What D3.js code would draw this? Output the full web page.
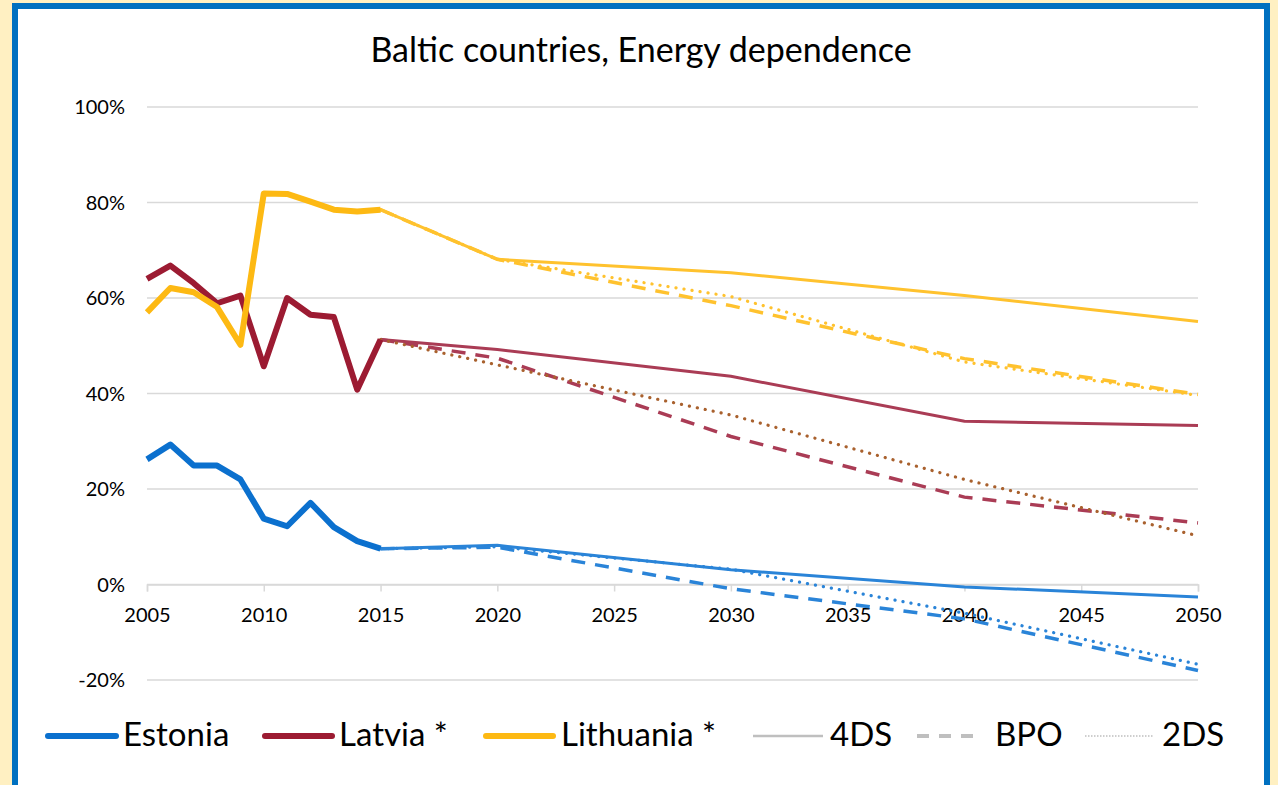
<!DOCTYPE html>
<html>
<head>
<meta charset="utf-8">
<script src="https://cdn.jsdelivr.net/npm/d3@7"></script>
<style>
  html, body { margin: 0; padding: 0; background: #FFF0C2; }
  svg { display: block; }
  text { font-family: Lato, "Liberation Sans", sans-serif; fill: #000; }
</style>
</head>
<body>
<svg id="chart" width="1278" height="785"></svg>
<script>
// historic values (%), 2005-2015
const histYears = [2005, 2006, 2007, 2008, 2009, 2010, 2011, 2012, 2013, 2014, 2015];
const estoniaHist = [26.2, 29.3, 24.9, 24.9, 22.0, 13.8, 12.2, 17.1, 12.0, 9.1, 7.5];
const latviaHist = [64.0, 66.8, 63.1, 58.9, 60.5, 45.7, 60.0, 56.5, 56.0, 40.8, 51.3];
const lithuaniaHist = [57.0, 62.1, 61.2, 58.1, 50.2, 81.9, 81.8, 80.2, 78.5, 78.1, 78.5];

// scenario projections (%)
const projYears = [2015, 2020, 2030, 2040, 2050];
const estonia4DS = [7.5, 8.2, 3.1, -0.5, -2.6];
const estoniaBPO = [7.5, 7.8, -0.9, -7.2, -18.0];
const estonia2DS = [7.5, 7.9, 3.2, -6.0, -16.7];
const latvia4DS = [51.3, 49.2, 43.6, 34.2, 33.3];
const latviaBPO = [51.3, 47.4, 31.0, 18.3, 12.9];
const latvia2DS = [51.3, 46.0, 35.5, 22.0, 10.2];
const lithuania4DS = [78.5, 68.1, 65.3, 60.5, 55.1];
const lithuaniaBPO = [78.5, 68.1, 58.4, 47.3, 39.8];
const lithuania2DS = [78.5, 68.1, 60.3, 46.6, 39.6];

const yTicks = [-20, 0, 20, 40, 60, 80, 100];
const xTicks = [2005, 2010, 2015, 2020, 2025, 2030, 2035, 2040, 2045, 2050];

const countryNames = ["Estonia", "Latvia *", "Lithuania *"];
const scenarioNames = ["4DS", "BPO", "2DS"];

const svg = d3.select("#chart");

// frame
svg.append("rect")
  .attr("x", 15).attr("y", 6)
  .attr("width", 1252).attr("height", 800)
  .attr("fill", "#fff")
  .attr("stroke", "#0070C0")
  .attr("stroke-width", 6);

const x = d3.scaleLinear().domain([2005, 2050]).range([147, 1198]);
const y = d3.scaleLinear().domain([-20, 100]).range([680, 107]);

svg.append("text")
  .attr("x", 641).attr("y", 62)
  .attr("text-anchor", "middle")
  .style("font-size", "34px")
  .text("Baltic countries, Energy dependence");

// grid
svg.append("g")
  .selectAll("line")
  .data(yTicks)
  .enter()
  .append("line")
  .attr("x1", x(2005)).attr("x2", x(2050))
  .attr("y1", function(d){return y(d);})
  .attr("y2", function(d){return y(d);})
  .attr("stroke", "#D9D9D9")
  .attr("stroke-width", 1.5);

svg.append("g")
  .selectAll("text")
  .data(yTicks)
  .enter()
  .append("text")
  .attr("x", 125)
  .attr("y", function(d){return y(d);})
  .attr("dy", "0.35em")
  .attr("text-anchor", "end")
  .style("font-size", "20px")
  .text(function(d){return d + "%";});

// x axis on zero line
const xAxis = d3.axisBottom(x)
  .tickValues(xTicks)
  .tickSize(7)
  .tickFormat(d3.format("d"));

const gx = svg.append("g")
  .attr("transform", "translate(0," + y(0) + ")")
  .call(xAxis);
gx.select(".domain").attr("stroke", "#D9D9D9").attr("stroke-width", 1.5);
gx.selectAll(".tick line").attr("stroke", "#D9D9D9").attr("stroke-width", 1.5);
gx.selectAll(".tick text")
  .attr("y", 30)
  .attr("dy", "0.35em")
  .style("font-size", "20px")
  .style("font-family", "Lato, sans-serif");

const line = d3.line()
  .x(function(d){return x(d[0]);})
  .y(function(d){return y(d[1]);});

function pairs(years, vals){
  return years.map(function(yr, i){return [yr, vals[i]];});
}

const dashPattern = "14,10";
const dotPattern = "0.1,8";

// projections
const projections = [
  {vals: estonia4DS, color: "#2A84D8", w: 3, dash: null},
  {vals: estoniaBPO, color: "#2A84D8", w: 3.5, dash: dashPattern},
  {vals: estonia2DS, color: "#2A84D8", w: 3.2, dash: dotPattern},
  {vals: latvia4DS, color: "#AA3C55", w: 3, dash: null},
  {vals: latviaBPO, color: "#AA3C55", w: 3.5, dash: dashPattern},
  {vals: latvia2DS, color: "#A9612E", w: 3.2, dash: dotPattern},
  {vals: lithuania4DS, color: "#FFC22E", w: 3, dash: null},
  {vals: lithuaniaBPO, color: "#FFC22E", w: 3.5, dash: dashPattern},
  {vals: lithuania2DS, color: "#FFC22E", w: 3.2, dash: dotPattern}
];

svg.append("g")
  .selectAll("path")
  .data(projections)
  .enter()
  .append("path")
  .attr("d", function(d){return line(pairs(projYears, d.vals));})
  .attr("fill", "none")
  .attr("stroke", function(d){return d.color;})
  .attr("stroke-width", function(d){return d.w;})
  .attr("stroke-dasharray", function(d){return d.dash;})
  .attr("stroke-linecap", function(d){return d.dash == dotPattern ? "round" : "butt";});

// historic
const historic = [
  {vals: estoniaHist, color: "#0B70CE"},
  {vals: latviaHist, color: "#9C1B32"},
  {vals: lithuaniaHist, color: "#FDB913"}
];

svg.append("g")
  .selectAll("path")
  .data(historic)
  .enter()
  .append("path")
  .attr("d", function(d){return line(pairs(histYears, d.vals));})
  .attr("fill", "none")
  .attr("stroke", function(d){return d.color;})
  .attr("stroke-width", 6)
  .attr("stroke-linejoin", "round");

// legend
const legendItems = [
  {name: countryNames[0], x1: 48, x2: 116, tx: 123, color: "#0B70CE", w: 6, dash: null},
  {name: countryNames[1], x1: 265, x2: 332, tx: 339, color: "#9C1B32", w: 6, dash: null},
  {name: countryNames[2], x1: 486, x2: 553, tx: 561, color: "#FDB913", w: 6, dash: null},
  {name: scenarioNames[0], x1: 753, x2: 823, tx: 830, color: "#BFBFBF", w: 2.5, dash: null},
  {name: scenarioNames[1], x1: 917, x2: 975, tx: 995, color: "#BFBFBF", w: 4, dash: "12,10"},
  {name: scenarioNames[2], x1: 1085, x2: 1154, tx: 1162, color: "#BFBFBF", w: 1.5, dash: "1.5,1.5"}
];

const lg = svg.append("g");
lg.selectAll("line")
  .data(legendItems)
  .enter()
  .append("line")
  .attr("x1", function(d){return d.x1;})
  .attr("x2", function(d){return d.x2;})
  .attr("y1", 736).attr("y2", 736)
  .attr("stroke", function(d){return d.color;})
  .attr("stroke-width", function(d){return d.w;})
  .attr("stroke-dasharray", function(d){return d.dash;})
  .attr("stroke-linecap", function(d){return d.w == 6 ? "round" : "butt";});

lg.selectAll("text")
  .data(legendItems)
  .enter()
  .append("text")
  .attr("x", function(d){return d.tx;})
  .attr("y", 746)
  .style("font-size", "33px")
  .text(function(d){return d.name;});
</script>
</body>
</html>
